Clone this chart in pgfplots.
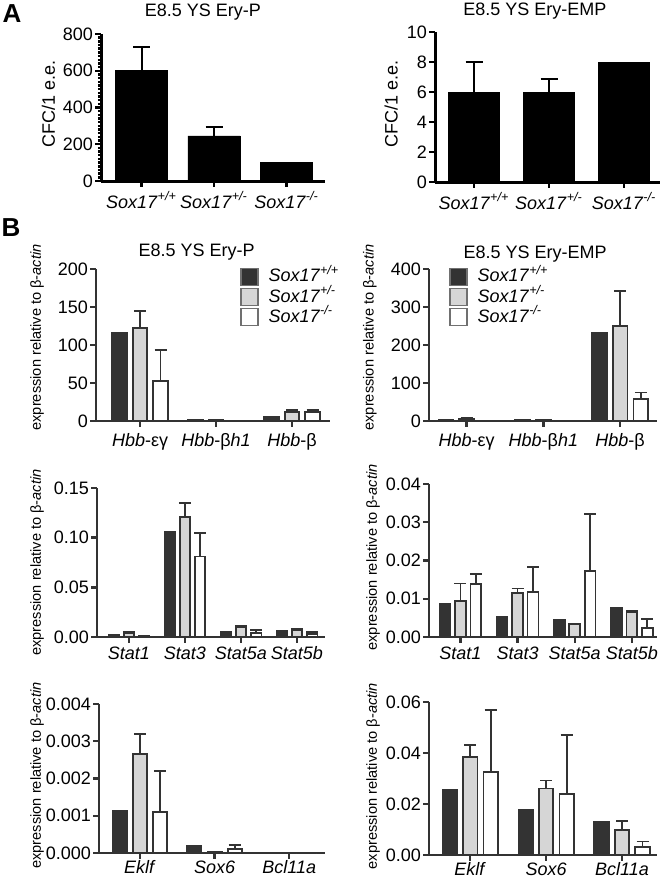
\documentclass[border=0pt]{standalone}
\usepackage{fontspec}
\setmainfont{Liberation Sans}
\usepackage{pgfplots}
\pgfplotsset{compat=1.18}

\definecolor{dk}{HTML}{333333}
\definecolor{lt}{HTML}{D6D6D6}
\definecolor{lg}{HTML}{707070}
\newcommand\tfont{\fontsize{9bp}{10.8bp}\selectfont}
\newcommand\sfont{\fontsize{7.3bp}{8.8bp}\selectfont}
\newcommand\sox[1]{\textit{Sox17}\textsuperscript{\textit{#1}}}

% bars of a group sit at c-0.27, c and c+0.27 (group centres c = 1,2,3,...)
\pgfplotsset{
  panel/.style={
    scale only axis, anchor=south west, clip=false,
    axis lines*=left,
    axis line style={line width=1.4bp, draw=dk},
    tick style={line width=1.2bp, draw=dk},
    tick align=outside, major tick length=2.8bp,
    enlargelimits=false, ymin=0, xtick={1,2,3,4}, scaled y ticks=false,
    tick label style={font=\tfont},
    yticklabel style={inner xsep=1bp},
    title style={font=\tfont, anchor=center},
    ylabel style={font=\sfont, anchor=center},
  },
  panelA/.style={panel,
    axis line style={line width=1.5bp, draw=black},
    tick style={line width=1.2bp, draw=black},
    ylabel style={font=\tfont, anchor=center},
    xticklabel style={yshift=1bp},
    xticklabels={\sox{+/+}, \sox{+/-}, \sox{-/-}},
  },
  sq/.style={legend image code/.code={%
    \draw[fill=#1, draw=lg, line width=0.6bp] (0bp,-4.25bp) rectangle (8.5bp,4.25bp);}},
  bar/.style={ybar, bar width=0.19, bar shift=0pt, draw=dk, line width=0.9bp},
  bdark/.style={bar, fill=dk, sq=dk},
  blight/.style={bar, fill=lt, sq=lt},
  bwhite/.style={bar, fill=white, sq=white},
  errs/.style={error bars/.cd, y dir=plus, y explicit,
    error bar style={line width=0.9bp, draw=dk},
    error mark options={rotate=90, line width=0.9bp, draw=dk, mark size=3bp}},
  abar/.style={ybar, bar shift=0pt, bar width=#1, fill=black, draw=black},
  aerrs/.style={error bars/.cd, y dir=plus, y explicit,
    error bar style={line width=1bp},
    error mark options={rotate=90, line width=1bp, mark size=4.25bp}},
  leg/.style={legend style={at={(axis description cs:#1,1.01)}, anchor=north west,
    draw=none, fill=none, font=\tfont, inner sep=0pt, row sep=1bp, column sep=5bp,
    nodes={inner sep=0pt, text height=6.6bp, text depth=1.6bp}}, legend cell align=left},
}

\begin{document}
\begin{tikzpicture}
\useasboundingbox (0,0) rectangle (332bp,-440bp);
\node[font=\bfseries\fontsize{13bp}{13bp}\selectfont] at (6bp,-7bp) {A};
\node[font=\bfseries\fontsize{13bp}{13bp}\selectfont] at (5.5bp,-114bp) {B};

% ---- A: colony counts
\begin{axis}[panelA, at={(50.5bp,-90.5bp)}, width=112bp, height=73.5bp,
  xmin=0.441, xmax=3.53, ymax=800,
  ytick={0,200,400,600,800}, yticklabels={0,200,400,600,800},
  minor y tick num=9, minor tick length=1.6bp,
  title={E8.5 YS Ery-P}, title style={at={(axis description cs:0.455,1)}, yshift=5bp},
  ylabel={CFC/1 e.e.}, ylabel style={at={(axis description cs:-0.235,0.527)}}]
\addplot[abar=0.72, aerrs] coordinates {(1,600) +- (0,130) (2,245) +- (0,50)};
\addplot[abar=0.72] coordinates {(3,103)};
\end{axis}

\begin{axis}[panelA, at={(217.5bp,-91bp)}, width=112.5bp, height=75bp,
  xmin=0.48, xmax=3.48, ymax=10,
  ytick={0,2,4,6,8,10}, yticklabels={0,2,4,6,8,10},
  title={E8.5 YS Ery-EMP}, title style={at={(axis description cs:0.444,1)}, yshift=4.5bp},
  ylabel={CFC/1 e.e.}, ylabel style={at={(axis description cs:-0.195,0.523)}}]
\addplot[abar=0.69, aerrs] coordinates {(1,6) +- (0,2) (2,6) +- (0,0.87)};
\addplot[abar=0.69] coordinates {(3,8)};
\end{axis}

% ---- B: globin genes
\begin{axis}[panel, leg=0.615, at={(48bp,-210.5bp)}, width=117bp, height=76bp,
  xmin=0.42, xmax=3.5, ymax=200,
  ytick={0,50,100,150,200}, yticklabels={0,50,100,150,200},
  xticklabels={\textit{Hbb}-εγ, \textit{Hbb}-β\textit{h1}, \textit{Hbb}-β},
  title={E8.5 YS Ery-P}, title style={at={(axis description cs:0.43,1)}, yshift=2.5bp},
  ylabel={expression relative to β-\textit{actin}}, ylabel style={at={(axis description cs:-0.252,0.55)}}]
\addplot[bdark] coordinates {(0.73,116) (1.73,1.5) (2.73,6)};
\addplot[blight, errs] coordinates {(1,122) +- (0,23) (2,1) +- (0,0.5) (3,12) +- (0,2.5)};
\addplot[bwhite, errs] coordinates {(1.27,53) +- (0,40) (2.27,0.5) +- (0,0) (3.27,12) +- (0,2.5)};
\legend{\sox{+/+}, \sox{+/-}, \sox{-/-}}
\end{axis}

\begin{axis}[panel, leg=0.088, at={(214.5bp,-210.5bp)}, width=114bp, height=76bp,
  xmin=0.51, xmax=3.48, ymax=400,
  ytick={0,100,200,300,400}, yticklabels={0,100,200,300,400},
  xticklabels={\textit{Hbb}-εγ, \textit{Hbb}-β\textit{h1}, \textit{Hbb}-β},
  title={E8.5 YS Ery-EMP}, title style={at={(axis description cs:0.465,1)}, yshift=1.5bp},
  ylabel={expression relative to β-\textit{actin}}, ylabel style={at={(axis description cs:-0.259,0.55)}}]
\addplot[bdark] coordinates {(0.73,2) (1.73,2) (2.73,233)};
\addplot[blight, errs] coordinates {(1,5) +- (0,3) (2,3) +- (0,1) (3,250) +- (0,93)};
\addplot[bwhite, errs] coordinates {(1.27,0.5) +- (0,0) (2.27,0.5) +- (0,0) (3.27,57) +- (0,18)};
\legend{\sox{+/+}, \sox{+/-}, \sox{-/-}}
\end{axis}

% ---- B: Stat genes
\begin{axis}[panel, at={(48.5bp,-318.5bp)}, width=114bp, height=74.5bp,
  xmin=0.43, xmax=4.5, ymax=0.15,
  ytick={0,0.05,0.10,0.15}, yticklabels={0.00,0.05,0.10,0.15},
  xticklabels={\textit{Stat1}, \textit{Stat3}, \textit{Stat5a}, \textit{Stat5b}},
  xticklabel style={yshift=1.5bp},
  ylabel={expression relative to β-\textit{actin}}, ylabel style={at={(axis description cs:-0.263,0.5)}}]
\addplot[bdark] coordinates {(0.73,0.0025) (1.73,0.106) (2.73,0.005) (3.73,0.006)};
\addplot[blight, errs] coordinates {(1,0.004) +- (0,0.001) (2,0.121) +- (0,0.014) (3,0.0095) +- (0,0.0015) (4,0.007) +- (0,0.0015)};
\addplot[bwhite, errs] coordinates {(1.27,0.001) +- (0,0) (2.27,0.081) +- (0,0.024) (3.27,0.004) +- (0,0.003) (4.27,0.003) +- (0,0.002)};
\end{axis}

\begin{axis}[panel, at={(214.5bp,-318.5bp)}, width=114bp, height=76.5bp,
  xmin=0.45, xmax=4.44, ymax=0.04,
  ytick={0,0.01,0.02,0.03,0.04}, yticklabels={0.00,0.01,0.02,0.03,0.04},
  xticklabels={\textit{Stat1}, \textit{Stat3}, \textit{Stat5a}, \textit{Stat5b}},
  xticklabel style={yshift=1.5bp},
  ylabel={expression relative to β-\textit{actin}}, ylabel style={at={(axis description cs:-0.245,0.52)}}]
\addplot[bdark] coordinates {(0.73,0.0086) (1.73,0.0052) (2.73,0.0045) (3.73,0.0077)};
\addplot[blight, errs] coordinates {(1,0.0095) +- (0,0.0045) (2,0.0115) +- (0,0.0012) (3,0.0035) +- (0,0) (4,0.0066) +- (0,0.0002)};
\addplot[bwhite, errs] coordinates {(1.27,0.0138) +- (0,0.0026) (2.27,0.0118) +- (0,0.0065) (3.27,0.0173) +- (0,0.0148) (4.27,0.0024) +- (0,0.0024)};
\end{axis}

% ---- B: Eklf, Sox6, Bcl11a
\begin{axis}[panel, at={(49.5bp,-426.5bp)}, width=113bp, height=74.5bp,
  xmin=0.45, xmax=3.48, ymax=0.004,
  ytick={0,0.001,0.002,0.003,0.004}, yticklabels={0.000,0.001,0.002,0.003,0.004},
  xticklabels={\textit{Eklf}, \textit{Sox6}, \textit{Bcl11a}},
  xticklabel style={yshift=2.5bp},
  ylabel={expression relative to β-\textit{actin}}, ylabel style={at={(axis description cs:-0.274,0.52)}}]
\addplot[bdark] coordinates {(0.73,0.00113) (1.73,0.0002) (2.73,0)};
\addplot[blight, errs] coordinates {(1,0.00265) +- (0,0.00055) (2,0.00004) +- (0,0) (3,0) +- (0,0)};
\addplot[bwhite, errs] coordinates {(1.27,0.0011) +- (0,0.0011) (2.27,0.0001) +- (0,0.00012) (3.27,0) +- (0,0)};
\end{axis}

\begin{axis}[panel, at={(214.5bp,-427.5bp)}, width=114bp, height=76.5bp,
  xmin=0.457, xmax=3.46, ymax=0.06,
  ytick={0,0.02,0.04,0.06}, yticklabels={0.00,0.02,0.04,0.06},
  xticklabels={\textit{Eklf}, \textit{Sox6}, \textit{Bcl11a}},
  xticklabel style={yshift=2.5bp},
  ylabel={expression relative to β-\textit{actin}}, ylabel style={at={(axis description cs:-0.245,0.516)}}]
\addplot[bdark] coordinates {(0.73,0.0254) (1.73,0.0176) (2.73,0.013)};
\addplot[blight, errs] coordinates {(1,0.0385) +- (0,0.0045) (2,0.0261) +- (0,0.0031) (3,0.0097) +- (0,0.0037)};
\addplot[bwhite, errs] coordinates {(1.27,0.0325) +- (0,0.0245) (2.27,0.0239) +- (0,0.0233) (3.27,0.003) +- (0,0.0023)};
\end{axis}
\end{tikzpicture}
\end{document}
